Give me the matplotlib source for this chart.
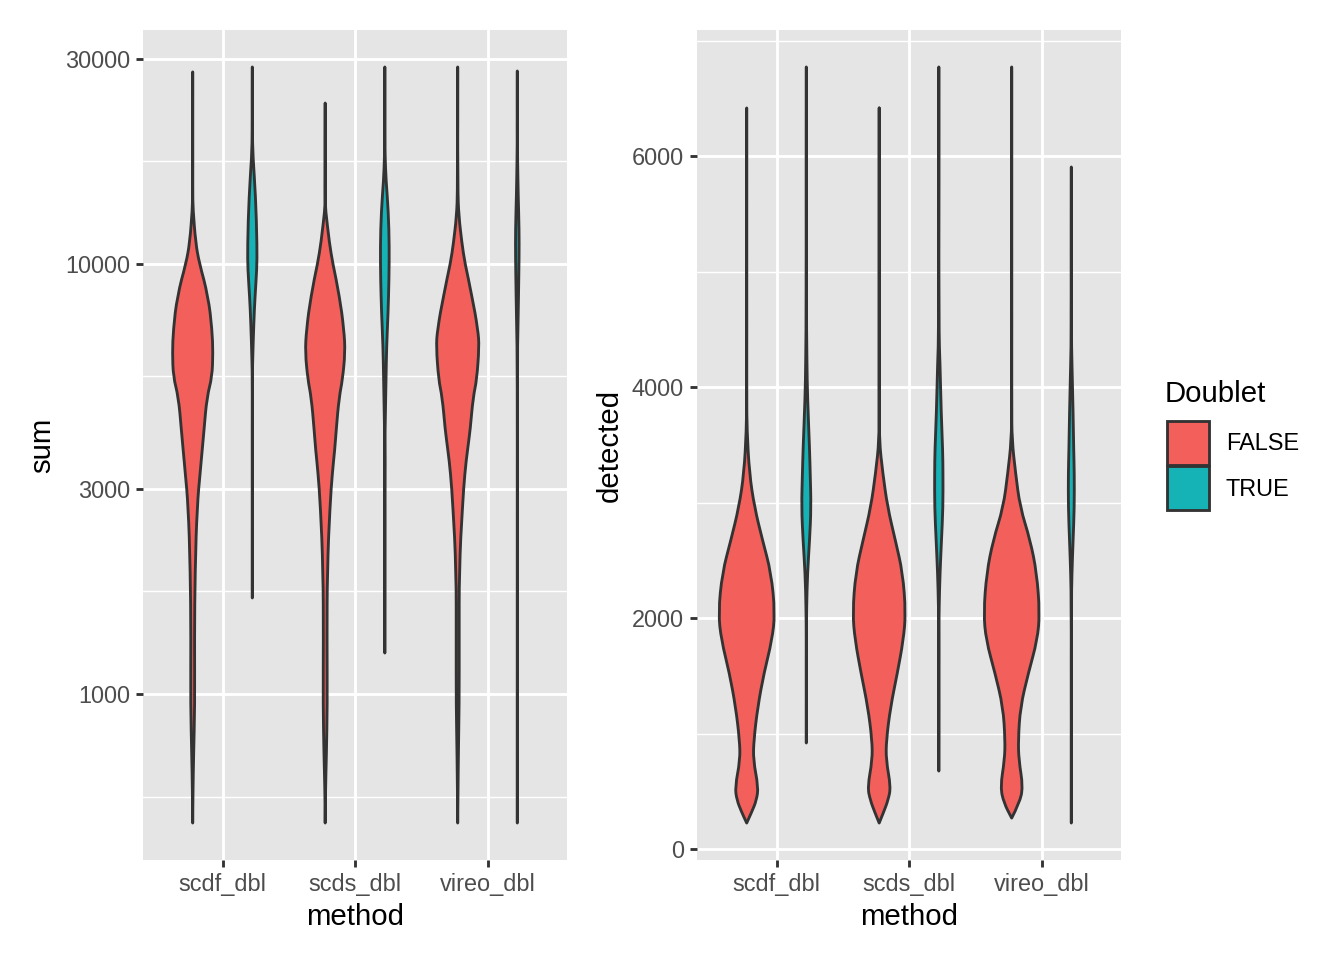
import numpy as np
import matplotlib
matplotlib.use("Agg")
import matplotlib.pyplot as plt
from matplotlib.patches import PathPatch, Rectangle
from matplotlib.path import Path
from matplotlib.ticker import FixedLocator, NullFormatter

plt.rcParams["font.family"] = ["Liberation Sans", "DejaVu Sans"]

methods = ["scdf_dbl", "scds_dbl", "vireo_dbl"]
doublet_levels = ["FALSE", "TRUE"]
fill_false = "#F35F5B"
fill_true = "#16B3B6"

# violin outlines: y values and half widths
# (half widths as a fraction of the dodge slot, 1.0 = full slot)

# ---- left panel: sum (log scale)
sum_scdf_false_y = [27970, 14860, 13360, 11190, 10050, 8380, 7020, 6210, 5460, 4905,
                    4110, 3693, 3266, 2722, 1911, 1335, 933, 714, 598, 501]
sum_scdf_false_w = [0, 0, 0.01, 0.10, 0.22, 0.52, 0.65, 0.68, 0.65, 0.48,
                    0.38, 0.32, 0.25, 0.15, 0.08, 0.06, 0.07, 0.03, 0.01, 0]
sum_scdf_true_y = [28720, 20490, 17740, 14320, 10950, 9680, 8380, 7290, 5890, 5375, 1672]
sum_scdf_true_w = [0, 0, 0.02, 0.11, 0.16, 0.15, 0.09, 0.05, 0.01, 0, 0]

sum_scds_false_y = [23680, 14320, 13360, 11190, 10050, 8380, 7020, 6210, 5375, 4905,
                    4110, 3693, 3266, 2722, 1911, 1335, 933, 714, 598, 501]
sum_scds_false_w = [0, 0, 0.01, 0.14, 0.25, 0.48, 0.63, 0.67, 0.58, 0.47,
                    0.37, 0.32, 0.24, 0.16, 0.07, 0.06, 0.07, 0.04, 0.01, 0]
sum_scds_true_y = [28720, 20490, 17740, 15680, 13140, 10950, 9180, 7690, 6410, 5375,
                   4500, 3753, 1245]
sum_scds_true_w = [0, 0, 0.01, 0.04, 0.12, 0.15, 0.14, 0.11, 0.06, 0.04, 0.02, 0, 0]

sum_vireo_false_y = [28720, 14860, 12860, 11190, 10050, 8380, 7020, 6410, 5375, 4905,
                     4110, 3693, 3266, 2722, 1911, 1335, 933, 714, 501]
sum_vireo_false_w = [0, 0, 0.04, 0.14, 0.24, 0.48, 0.68, 0.72, 0.64, 0.52,
                     0.42, 0.33, 0.24, 0.16, 0.05, 0.05, 0.05, 0.02, 0]
sum_vireo_true_y = [28110, 20490, 17170, 14320, 12000, 10380, 8380, 7020, 5890, 501]
sum_vireo_true_w = [0, 0, 0.01, 0.03, 0.06, 0.06, 0.04, 0.02, 0, 0]

# ---- right panel: detected
det_scdf_false_y = [6416, 3913, 3628, 3255, 2961, 2675, 2390, 2043, 1810, 1524,
                    1229, 944, 771, 537, 424, 320, 225]
det_scdf_false_w = [0, 0, 0.01, 0.09, 0.26, 0.53, 0.82, 0.95, 0.85, 0.58,
                    0.37, 0.24, 0.22, 0.39, 0.33, 0.17, 0]
det_scdf_true_y = [6771, 4779, 4208, 3913, 3455, 3255, 2961, 2675, 2390, 2095, 1810, 918]
det_scdf_true_w = [0, 0, 0.02, 0.04, 0.11, 0.13, 0.16, 0.11, 0.04, 0.01, 0, 0]

det_scds_false_y = [6416, 3913, 3541, 3255, 2961, 2675, 2390, 2043, 1810, 1524,
                    1229, 944, 771, 537, 424, 320, 225]
det_scds_false_w = [0, 0, 0, 0.12, 0.28, 0.54, 0.79, 0.89, 0.81, 0.61,
                    0.38, 0.24, 0.23, 0.39, 0.30, 0.15, 0]
det_scds_true_y = [6771, 4494, 4208, 3775, 3455, 3255, 2961, 2675, 2390, 2095, 1810, 675]
det_scds_true_w = [0, 0, 0.04, 0.08, 0.13, 0.14, 0.14, 0.09, 0.04, 0.01, 0, 0]

det_vireo_false_y = [6771, 3827, 3541, 3255, 2961, 2675, 2390, 2043, 1810, 1524,
                     1229, 944, 771, 537, 398, 268]
det_vireo_false_w = [0, 0, 0.01, 0.13, 0.28, 0.62, 0.84, 0.94, 0.86, 0.56,
                     0.29, 0.22, 0.24, 0.38, 0.26, 0]
det_vireo_true_y = [5905, 4494, 4208, 3775, 3455, 3255, 2961, 2675, 2390, 2095, 225]
det_vireo_true_w = [0, 0, 0.02, 0.06, 0.08, 0.10, 0.10, 0.06, 0.02, 0, 0]

sum_violins = [
    (0, "FALSE", sum_scdf_false_y, sum_scdf_false_w),
    (0, "TRUE", sum_scdf_true_y, sum_scdf_true_w),
    (1, "FALSE", sum_scds_false_y, sum_scds_false_w),
    (1, "TRUE", sum_scds_true_y, sum_scds_true_w),
    (2, "FALSE", sum_vireo_false_y, sum_vireo_false_w),
    (2, "TRUE", sum_vireo_true_y, sum_vireo_true_w),
]
det_violins = [
    (0, "FALSE", det_scdf_false_y, det_scdf_false_w),
    (0, "TRUE", det_scdf_true_y, det_scdf_true_w),
    (1, "FALSE", det_scds_false_y, det_scds_false_w),
    (1, "TRUE", det_scds_true_y, det_scds_true_w),
    (2, "FALSE", det_vireo_false_y, det_vireo_false_w),
    (2, "TRUE", det_vireo_true_y, det_vireo_true_w),
]

sum_ticks = [1000, 3000, 10000, 30000]
sum_minor = [577, 1732, 5477, 17321]
det_ticks = [0, 2000, 4000, 6000]
det_minor = [1000, 3000, 5000, 7000]

slot = 0.225
outline = "#333333"
lw_major = 1.07


def side_path(pts):
    # smooth open curve: quadratic beziers through midpoints, read points as controls
    verts = [pts[0]]
    codes = []
    for k in range(1, len(pts) - 1):
        mid = (pts[k] + pts[k + 1]) / 2
        verts += [pts[k], mid]
        codes += [Path.CURVE3, Path.CURVE3]
    verts.append(pts[-1])
    codes.append(Path.LINETO)
    return verts, codes


def draw_violin(ax, xc, ys, ws, color):
    ys = np.asarray(ys, dtype=float)
    ws = np.asarray(ws, dtype=float) * slot
    left = np.column_stack([xc - ws, ys])
    right = np.column_stack([xc + ws[::-1], ys[::-1]])
    lv, lc = side_path(left)
    rv, rc = side_path(right)
    verts = lv + rv[1:] + [lv[0]]
    codes = [Path.MOVETO] + lc + rc + [Path.CLOSEPOLY]
    path = Path(np.array(verts), codes)
    ax.add_patch(PathPatch(path, facecolor=color, edgecolor=outline, lw=lw_major,
                           joinstyle="round", capstyle="round", zorder=3))


def style_axes(ax):
    ax.set_facecolor("#E5E5E5")
    for s in ax.spines.values():
        s.set_visible(False)
    ax.set_axisbelow(True)
    ax.grid(which="major", color="white", lw=lw_major)
    ax.grid(which="minor", axis="y", color="white", lw=0.53)
    ax.tick_params(which="major", length=7.3 * 72 / 192, width=lw_major, color="#333333",
                   labelsize=8.8, labelcolor="#4D4D4D", pad=2.2)
    ax.tick_params(which="minor", length=0)
    ax.set_xlim(0.4, 3.6)
    ax.set_xticks([1, 2, 3])
    ax.set_xticklabels(methods)
    ax.set_xlabel("method", fontsize=11, labelpad=2.5)


def panel(ax, violins):
    for i, lvl, ys, ws in violins:
        xc = i + 1 + (-slot if lvl == "FALSE" else slot)
        draw_violin(ax, xc, ys, ws, fill_false if lvl == "FALSE" else fill_true)


fig = plt.figure(figsize=(7, 5), dpi=192)

ax1 = fig.add_axes([143 / 1344, 100 / 960, 424 / 1344, 830 / 960])
style_axes(ax1)
ax1.set_yscale("log")
ax1.set_ylim(411, 35010)
ax1.yaxis.set_major_locator(FixedLocator(sum_ticks))
ax1.set_yticklabels([str(t) for t in sum_ticks])
ax1.yaxis.set_minor_locator(FixedLocator(sum_minor))
ax1.yaxis.set_minor_formatter(NullFormatter())
panel(ax1, sum_violins)
ax1.set_ylabel("sum", fontsize=11, labelpad=3)

ax2 = fig.add_axes([697 / 1344, 100 / 960, 424 / 1344, 830 / 960])
style_axes(ax2)
ax2.set_ylim(-95, 7091)
ax2.yaxis.set_major_locator(FixedLocator(det_ticks))
ax2.set_yticklabels([str(t) for t in det_ticks])
ax2.yaxis.set_minor_locator(FixedLocator(det_minor))
panel(ax2, det_violins)
ax2.set_ylabel("detected", fontsize=11, labelpad=3)

# legend drawn by hand, ggplot style
fig.text(1165 / 1344, 1 - 394 / 960, "Doublet", fontsize=11, ha="left", va="center")
key_tops = [421, 466]
for lvl, top in zip(doublet_levels, key_tops):
    col = fill_false if lvl == "FALSE" else fill_true
    fig.add_artist(Rectangle((1167 / 1344, 1 - (top + 44) / 960), 42 / 1344, 44 / 960,
                             transform=fig.transFigure, facecolor=col,
                             edgecolor=outline, lw=lw_major))
    fig.text(1226 / 1344, 1 - (top + 23) / 960, lvl, fontsize=8.8, ha="left", va="center")

fig.savefig("out.png", dpi=192)
